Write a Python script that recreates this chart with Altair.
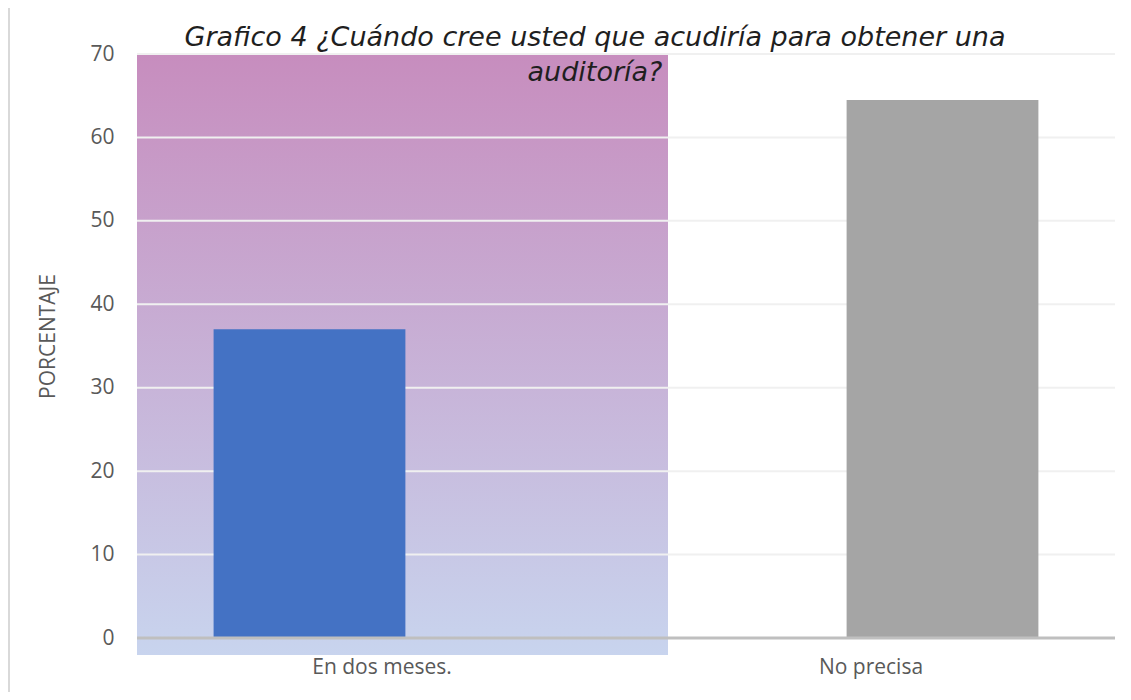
import altair as alt
import pandas as pd

categories = ["En dos meses.", "No precisa"]
values = [37.0, 64.5]
bar_colors = ["#4472C4", "#A5A5A5"]
y_ticks = [0, 10, 20, 30, 40, 50, 60, 70]
title_lines = ["Grafico 4 ¿Cuándo cree usted que acudiría para obtener una", "auditoría?"]

df = pd.DataFrame({"cat": categories, "val": values, "color": bar_colors})
grid_df = pd.DataFrame({"t": y_ticks[1:]})
zero_df = pd.DataFrame({"t": y_ticks[:1]})

W, H = 978, 584
bar_xscale = alt.Scale(domain=categories, paddingInner=0.697, paddingOuter=0.121)
label_xscale = alt.Scale(domain=categories, paddingInner=0, paddingOuter=0)
yscale = alt.Scale(domain=[0, 70], nice=False)

y_axis = alt.Axis(values=y_ticks, grid=False, domain=False, ticks=False, tickSize=0,
                  labelFont="Open Sans", labelFontSize=21, labelColor="#595959",
                  labelPadding=23, title="PORCENTAJE", titleFont="Open Sans",
                  titleFontSize=21, titleFontWeight="normal", titleColor="#595959",
                  titleAngle=270, titleX=-89, titleY=282, titleAlign="center",
                  titleBaseline="middle")

gradient = alt.Chart(pd.DataFrame({"a": [0]})).mark_rect(
    color=alt.Gradient(gradient="linear",
                       stops=[alt.GradientStop(color="#C78DBE", offset=0),
                              alt.GradientStop(color="#C8D4EE", offset=1)],
                       x1=0, x2=0, y1=0, y2=1)
).encode(x=alt.value(0), x2=alt.value(531), y=alt.value(0), y2=alt.value(601))

grid = alt.Chart(grid_df).mark_rule(color="#F0F0F0", strokeWidth=2).encode(
    y=alt.Y("t:Q", scale=yscale, axis=y_axis)
)

bars = alt.Chart(df).mark_bar().encode(
    x=alt.X("cat:N", scale=bar_xscale, sort=categories, title=None, axis=None),
    y=alt.Y("val:Q", scale=yscale, axis=y_axis),
    color=alt.Color("color:N", scale=None),
)

labels = alt.Chart(df).mark_point(opacity=0).encode(
    x=alt.X("cat:N", scale=label_xscale, sort=categories, title=None,
            axis=alt.Axis(orient="bottom", labelAngle=0, labelFont="Open Sans",
                          labelFontSize=21, labelColor="#595959", labelPadding=18,
                          ticks=False, domain=False)),
    y=alt.Y("val:Q", scale=yscale, axis=y_axis),
)

zero = alt.Chart(zero_df).mark_rule(color="#BFBFBF", strokeWidth=3).encode(
    y=alt.Y("t:Q", scale=yscale, axis=y_axis)
)

t1 = alt.Chart(pd.DataFrame({"a": [0]})).mark_text(
    text=title_lines[0], font="DejaVu Sans", fontSize=27, fontStyle="italic",
    color="#1F1F1F", align="center", baseline="alphabetic"
).encode(x=alt.value(458), y=alt.value(-8))
t2 = alt.Chart(pd.DataFrame({"a": [0]})).mark_text(
    text=title_lines[1], font="DejaVu Sans", fontSize=27, fontStyle="italic",
    color="#1F1F1F", align="center", baseline="alphabetic"
).encode(x=alt.value(458), y=alt.value(27))

border = alt.Chart(pd.DataFrame({"a": [0]})).mark_rule(color="#D9D9D9", strokeWidth=2).encode(
    x=alt.value(-128), y=alt.value(-46), y2=alt.value(640)
)

chart = alt.layer(gradient, grid, bars, labels, zero, t1, t2, border).resolve_scale(
    x="independent"
).properties(
    width=W, height=H,
    autosize=alt.AutoSizeParams(type="none"),
    padding={"left": 129, "top": 46, "right": 8, "bottom": 54},
).configure_view(stroke=None).configure_axisY(labelFontSize=21, labelFont="Open Sans")

chart.save("out.html", embed_options={"renderer": "svg", "actions": False})
